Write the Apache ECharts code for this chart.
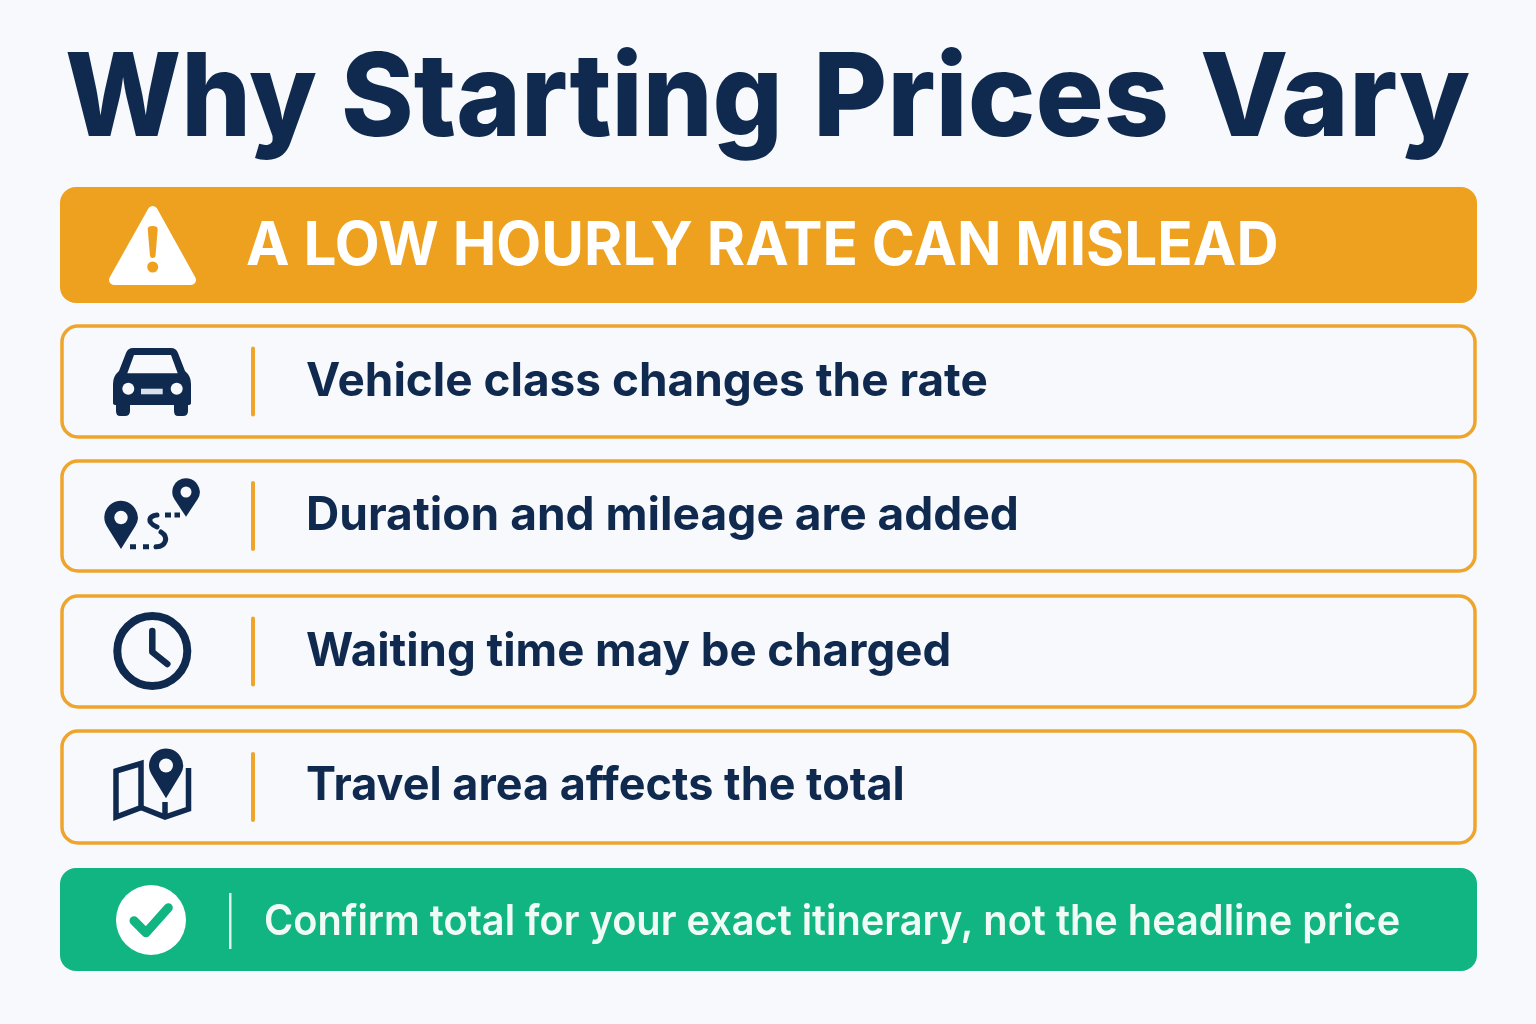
<!DOCTYPE html>
<html>
<head>
<meta charset="utf-8">
<style>
  html, body { margin: 0; padding: 0; background: #f7f9fd; }
  #chart { width: 1536px; height: 1024px; }
</style>
<script src="https://cdn.jsdelivr.net/npm/echarts@6/dist/echarts.min.js"></script>
</head>
<body>
<div id="chart"></div>
<script>
const titleWords = ['Why', 'Starting', 'Prices', 'Vary'];
const bannerText = 'A LOW HOURLY RATE CAN MISLEAD';
const rowLabels = [
  'Vehicle class changes the rate',
  'Duration and mileage are added',
  'Waiting time may be charged',
  'Travel area affects the total'
];
const footerText = 'Confirm total for your exact itinerary, not the headline price';

const NAVY = '#0f2a4e';
const ORANGE = '#eea11f';
const GREEN = '#10b581';
const BG = '#f7f9fd';
const FONT = 'Inter';

// layout, kept apart from the text above
const titleX = [65, 341, 813, 1200];
const titleFit = [0.955, 0.957, 0.99, 1.0];
const rowBoxes = [[326, 437], [461, 571], [596, 707], [731, 843]];
const rowTextY = [382, 516, 652, 786];
const rowFit = [0.998, 1.002, 0.991, 0.978];

function text(str, x, y, size, weight, fill, fit) {
  return {
    type: 'text', x: x, y: y, scaleX: fit || 1,
    style: { text: str, fontFamily: FONT, fontSize: size, fontWeight: weight, fill: fill, textVerticalAlign: 'middle' }
  };
}
function rect(x, y, w, h, r, style) {
  return { type: 'rect', shape: { x: x, y: y, width: w, height: h, r: r }, style: style };
}
function circle(cx, cy, r, style) {
  return { type: 'circle', shape: { cx: cx, cy: cy, r: r }, style: style };
}
// graphic has no plain path type, so each svg path is registered as its own shape
let pathCount = 0;
function path(d, style) {
  const name = 'svgPath' + (pathCount++);
  echarts.graphic.registerShape(name, echarts.graphic.extendPath(d, {}));
  return { type: name, style: style };
}
function line(d, width, extra) {
  return path(d, Object.assign({ fill: 'none', stroke: NAVY, lineWidth: width, lineCap: 'round', lineJoin: 'round' }, extra || {}));
}
// map pin: head circle plus tip, hole drawn on top
function pin(cx, cy, r, tip, hole) {
  const d = tip - cy;
  const ty = cy + r * r / d;
  const tx = r * Math.sqrt(1 - (r / d) * (r / d));
  return [
    path('M' + cx + ' ' + tip + 'L' + (cx - tx) + ' ' + ty +
      'A' + r + ' ' + r + ' 0 1 1 ' + (cx + tx) + ' ' + ty + 'Z', { fill: NAVY }),
    circle(cx, cy, hole, { fill: BG })
  ];
}

const elements = [];

// title
titleWords.forEach(function (word, i) {
  elements.push(text(word, titleX[i], 101, 115, 800, NAVY, titleFit[i]));
});

// warning banner
elements.push(rect(60, 187, 1417, 116, 16, { fill: ORANGE }));
elements.push(path('M152.7 211L114 280L191 280Z', { fill: '#fff', stroke: '#fff', lineWidth: 10, lineJoin: 'round' }));
elements.push(path('M147.7 229Q147.7 226 152.7 226Q157.7 226 157.7 229L155.5 256Q155 258 152.7 258Q150.4 258 150 256Z', { fill: ORANGE }));
elements.push(circle(152.7, 267, 5.5, { fill: ORANGE }));
elements.push(text(bannerText, 246, 247, 60, 700, '#fff', 0.973));

// rows
rowBoxes.forEach(function (box, i) {
  const mid = (box[0] + box[1]) / 2;
  elements.push(rect(62, box[0], 1413, box[1] - box[0], 16, { fill: BG, stroke: '#efa52b', lineWidth: 3.5 }));
  elements.push(rect(251, mid - 35, 4, 70, 2, { fill: '#efa52b' }));
  elements.push(text(rowLabels[i], 306, rowTextY[i], 46, 700, NAVY, rowFit[i]));
});

// car
elements.push(path('M133 348L171 348Q176 348 178 353L185 371Q191 376 191 384L191 403Q191 405 188 405L188 411Q188 416 183 416L178 416Q174 416 174 411L174 405L130 405L130 411Q130 416 125 416L120 416Q116 416 116 411L116 405Q113 405 113 403L113 384Q113 376 119 371L126 353Q128 348 133 348Z', { fill: NAVY }));
elements.push(path('M134 355L171 355L177.7 373.3L127.3 373.3Z', { fill: BG }));
elements.push(circle(128.3, 388.7, 6, { fill: BG }));
elements.push(circle(176.7, 388.7, 6, { fill: BG }));
elements.push(rect(141, 388.7, 21.7, 5.6, 0, { fill: '#d8e0ea' }));

// route
elements.push(...pin(121, 517.5, 16.7, 549, 6.7));
elements.push(...pin(186, 492, 13.7, 516.7, 5.5));
elements.push(line('M130 546.7L136 546.7M143 546.7L149 546.7', 5, { lineCap: 'butt' }));
elements.push(line('M156 546.7C166 547 169 537 161 532', 5));
elements.push(line('M157 527C146 522 149 516 157 515', 5));
elements.push(line('M165 515L171 515M174.5 515L180 515', 5, { lineCap: 'butt' }));

// clock
elements.push(circle(152.3, 651, 35, { fill: 'none', stroke: NAVY, lineWidth: 8 }));
elements.push(line('M152.3 631L152.3 652L167.3 664', 6.5));

// map
elements.push(line('M116 771L141 763.5L141 807.5L116 817Z', 5.5, { lineJoin: 'miter' }));
elements.push(line('M141 807.5L165 817L188.5 809L188.5 768', 5.5, { lineCap: 'butt', lineJoin: 'miter' }));
elements.push(line('M165 802L165 817', 5.5, { lineCap: 'butt' }));
elements.push(...pin(166, 765.5, 17, 798.3, 7));

// footer
elements.push(rect(60, 868, 1417, 103, 16, { fill: GREEN }));
elements.push(circle(151, 920, 35, { fill: '#fff' }));
elements.push(line('M134 920.7L146 932.7L168.3 907.7', 9, { stroke: GREEN }));
elements.push(rect(229, 893, 2.5, 56, 0, { fill: '#dff5ec' }));
elements.push(text(footerText, 264, 922, 42, 600, '#f0fbf6', 0.946));

const chart = echarts.init(document.getElementById('chart'));
chart.setOption({
  backgroundColor: BG,
  animation: false,
  graphic: { elements: elements }
});
</script>
</body>
</html>
